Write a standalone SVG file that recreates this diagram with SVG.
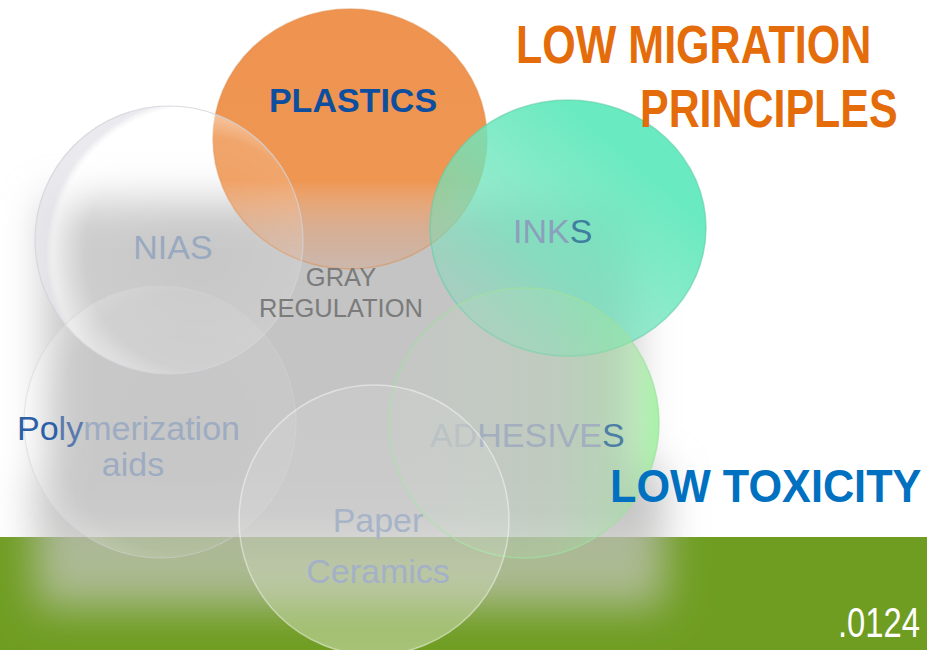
<svg xmlns="http://www.w3.org/2000/svg" width="927" height="650" viewBox="0 0 927 650">
<style>
text{font-family:"Liberation Sans",Arial,sans-serif}
.lbl{font-size:34px}
.title{font-weight:bold}
</style>
<defs>
<filter id="blur" x="-20%" y="-20%" width="140%" height="140%"><feGaussianBlur stdDeviation="20"/></filter>
<linearGradient id="gHaze" gradientUnits="userSpaceOnUse" x1="0" y1="200" x2="0" y2="610">
<stop offset="0" stop-color="#b6b6b6" stop-opacity="0.8"/>
<stop offset="0.82" stop-color="#b6b6b6" stop-opacity="0.8"/>
<stop offset="0.825" stop-color="#c8c8c6" stop-opacity="0.72"/>
<stop offset="1" stop-color="#c8c8c6" stop-opacity="0.65"/>
</linearGradient>
<linearGradient id="gPlastics" x1="0" y1="0" x2="0" y2="1">
<stop offset="0" stop-color="#ef9450" stop-opacity="1"/>
<stop offset="0.66" stop-color="#ee9652" stop-opacity="1"/>
<stop offset="0.85" stop-color="#e29a6a" stop-opacity="0.55"/>
<stop offset="1" stop-color="#dca080" stop-opacity="0.35"/>
</linearGradient>
<linearGradient id="gInks" x1="0.1" y1="0.95" x2="0.75" y2="0.25">
<stop offset="0" stop-color="#7adcb8" stop-opacity="0.25"/>
<stop offset="0.45" stop-color="#6fe4bc" stop-opacity="0.7"/>
<stop offset="1" stop-color="#6aeac0" stop-opacity="1"/>
</linearGradient>
<radialGradient id="gNias" cx="0.62" cy="0.55" r="0.58">
<stop offset="0" stop-color="#ffffff" stop-opacity="0.05"/>
<stop offset="0.75" stop-color="#ffffff" stop-opacity="0.15"/>
<stop offset="0.95" stop-color="#ffffff" stop-opacity="0.55"/>
<stop offset="1" stop-color="#e4e4ea" stop-opacity="0.8"/>
</radialGradient>
<radialGradient id="gGlass" cx="0.6" cy="0.5" r="0.6">
<stop offset="0" stop-color="#ffffff" stop-opacity="0.04"/>
<stop offset="0.8" stop-color="#ffffff" stop-opacity="0.08"/>
<stop offset="1" stop-color="#ffffff" stop-opacity="0.25"/>
</radialGradient>
<linearGradient id="gAdh" x1="0" y1="0" x2="1" y2="0">
<stop offset="0" stop-color="#c8e0c8" stop-opacity="0.08"/>
<stop offset="0.6" stop-color="#b0e0b0" stop-opacity="0.25"/>
<stop offset="0.9" stop-color="#9ae69a" stop-opacity="0.5"/>
<stop offset="1" stop-color="#8cf08c" stop-opacity="0.75"/>
</linearGradient>
<linearGradient id="gPaper" x1="0" y1="0" x2="0" y2="1">
<stop offset="0" stop-color="#ffffff" stop-opacity="0.08"/>
<stop offset="0.6" stop-color="#ffffff" stop-opacity="0.12"/>
<stop offset="1" stop-color="#ffffff" stop-opacity="0.4"/>
</linearGradient>
</defs>

<rect x="0" y="0" width="927" height="650" fill="#ffffff"/>
<rect x="0" y="537" width="927" height="113" fill="#6f9d21"/>
<path id="haze" d="M45 200 H635 V470 H665 V608 H35 V470 H45 Z" fill="url(#gHaze)" filter="url(#blur)"/>

<g id="node-plastics">
<ellipse cx="350" cy="139" rx="137" ry="130" fill="url(#gPlastics)" stroke="#e08a46" stroke-opacity="0.5" stroke-width="1.5"/>
<text class="lbl title" x="353" y="112" text-anchor="middle" fill="#0d4f9e">PLASTICS</text>
</g>

<g id="node-nias">
<circle cx="169" cy="240" r="134" fill="url(#gNias)" stroke="#d2d2da" stroke-opacity="0.8" stroke-width="1.2"/>
<text class="lbl" x="173" y="259" text-anchor="middle" fill="#99a9c0">NIAS</text>
</g>

<g id="node-inks">
<ellipse cx="568" cy="228" rx="138" ry="128" fill="url(#gInks)" stroke="#62cfa8" stroke-opacity="0.6" stroke-width="1.5"/>
<text class="lbl" x="513" y="243" fill="#8aa0bc">INK<tspan fill="#3f7e9e">S</tspan></text>
</g>

<g id="node-polymerization">
<circle cx="160" cy="422" r="136" fill="url(#gGlass)" stroke="#d4d4d8" stroke-opacity="0.5" stroke-width="1.2"/>
<text class="lbl" x="17" y="440" fill="#9eacc2"><tspan fill="#2b5fa6">Po</tspan><tspan fill="#5a7aae">ly</tspan>merization</text>
<text class="lbl" x="133" y="476" text-anchor="middle" fill="#9eacc2">aids</text>
</g>

<g id="node-adhesives">
<circle cx="524" cy="423" r="135" fill="url(#gAdh)" stroke="#a0e0a0" stroke-opacity="0.7" stroke-width="1.5"/>
<text class="lbl" x="430" y="447" fill="#a3aebf"><tspan fill="#b4bcbe">AD</tspan>HESIVE<tspan fill="#4d7fa6">S</tspan></text>
</g>

<g id="node-paper">
<circle cx="374" cy="520" r="135" fill="url(#gPaper)" stroke="#ffffff" stroke-opacity="0.45" stroke-width="1.5"/>
<text class="lbl" x="378" y="532" text-anchor="middle" fill="#a7b4c8">Paper</text>
<text class="lbl" x="378" y="583" text-anchor="middle" fill="#a4b0c8">Ceramics</text>
</g>

<g id="label-gray-regulation" fill="#7b7b7b" font-size="25.5" text-anchor="middle">
<text x="341" y="286">GRAY</text>
<text x="341" y="317">REGULATION</text>
</g>

<g id="titles">
<text class="title" transform="translate(516,63) scale(0.812,1)" font-size="53" fill="#e46c0a">LOW MIGRATION</text>
<text class="title" transform="translate(640,127) scale(0.81,1)" font-size="53" fill="#e46c0a">PRINCIPLES</text>
<text class="title" transform="translate(610,502) scale(0.92,1)" font-size="47" fill="#0070c0">LOW TOXICITY</text>
<text transform="translate(838,637) scale(0.78,1)" font-size="42" fill="#ffffff">.0124</text>
</g>
</svg>
